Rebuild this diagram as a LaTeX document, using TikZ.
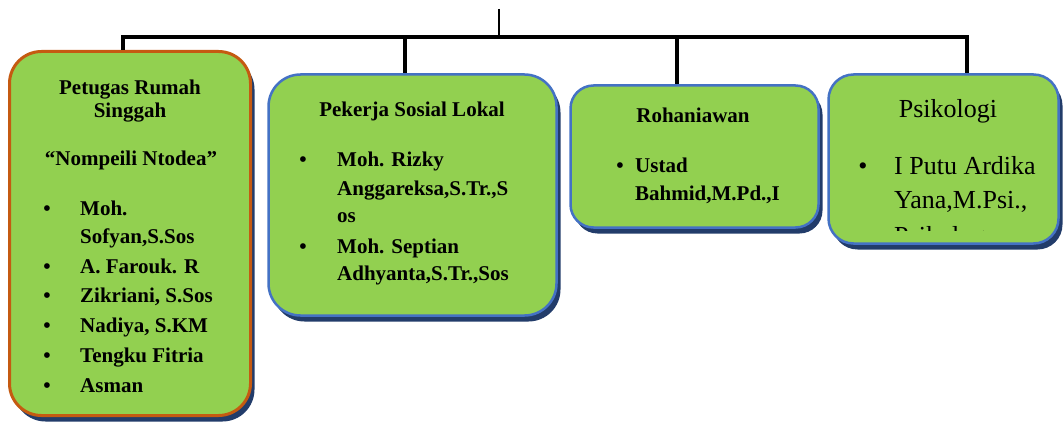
\documentclass[tikz,border=0pt]{standalone}
\usepackage{fontspec}
\setmainfont{Liberation Serif}
\usetikzlibrary{shadows}

\definecolor{boxgreen}{HTML}{92D050}
\definecolor{boxblue}{HTML}{4472C4}
\definecolor{boxorange}{HTML}{C55A11}
\definecolor{shadowblue}{HTML}{223C6A}

\tikzset{
  unit/.style={draw=boxblue, line width=2.5pt, fill=boxgreen, inner sep=0pt,
    drop shadow={shadow xshift=4pt, shadow yshift=-6pt, fill=shadowblue, opacity=1}},
  txt/.style={inner sep=0pt, anchor=base, font=\bfseries\fontsize{21}{25}\selectfont},
  txtw/.style={txt, anchor=base west},
  psi/.style={inner sep=0pt, anchor=base, font=\fontsize{26}{31}\selectfont},
  psiw/.style={psi, anchor=base west},
  link/.style={line width=3.5pt},
}

\begin{document}
\begin{tikzpicture}[x=1pt, y=-1pt]
\useasboundingbox (0,0) rectangle (1064,422);

% Boxes
\node[unit, draw=boxorange, line width=3pt, rounded corners=32pt,
      minimum width=241pt, minimum height=364pt] (petugas) at (130,233.5) {};
\node[unit, rounded corners=32pt, minimum width=288pt, minimum height=241pt] (pekerja) at (412.5,195) {};
\node[unit, rounded corners=23pt, minimum width=248pt, minimum height=142pt] (rohani) at (694.5,156.5) {};
\node[unit, rounded corners=25pt, minimum width=230pt, minimum height=169pt] (psikologi) at (943.5,159) {};

% Connectors
\coordinate (root) at (499,9);
\coordinate (hub) at (499,37);
\draw[line width=1.5pt] (root) -- (hub);
\draw[link] ([xshift=-7pt]petugas.north) |- (hub) -| ([xshift=23.5pt]psikologi.north);
\draw[link] (hub) -| ([xshift=-7.5pt]pekerja.north);
\draw[link] (hub) -| ([xshift=-17.5pt]rohani.north);

% Petugas Rumah Singgah
\node[txt] (p-h1) at (130,95) {Petugas Rumah};
\node[txt] (p-h2) at (130,118) {Singgah};
\node[txt] (p-h3) at (131,165) {“Nompeili Ntodea”};
\foreach \y/\t [count=\i] in {215/Moh., 243/{Sofyan,S.Sos}, 273/A. Farouk. R,
    302/{Zikriani, S.Sos}, 332/{Nadiya, S.KM}, 362/Tengku Fitria, 392/Asman}
  \node[txtw] (p-\i) at (80,\y) {\t};
\foreach \y [count=\i] in {215,273,302,332,362,392}
  \node[txt] (p-b\i) at (47,\y) {\textbullet};

% Pekerja Sosial Lokal
\node[txt] (s-h) at (412,117) {Pekerja Sosial Lokal};
\foreach \y/\t [count=\i] in {167/Moh. Rizky, 195/{Anggareksa,S.Tr.,S}, 222/os,
    253/Moh. Septian, 280/{Adhyanta,S.Tr.,Sos}}
  \node[txtw] (s-\i) at (337,\y) {\t};
\foreach \y [count=\i] in {167,253}
  \node[txt] (s-b\i) at (303,\y) {\textbullet};

% Rohaniawan
\node[txt] (r-h) at (693,123) {Rohaniawan};
\node[txt] (r-b1) at (620,172) {\textbullet};
\node[txtw] (r-1) at (635,172) {Ustad};
\node[txtw] (r-2) at (635,200) {Bahmid,M.Pd.,I};

% Psikologi
\node[psi] (k-h) at (948,118) {Psikologi};
\node[psi] (k-b1) at (863,175) {\textbullet};
\node[psiw] (k-1) at (894,175) {I Putu Ardika};
\node[psiw] (k-2) at (894,208) {Yana,M.Psi.,};
\begin{scope}
  \clip (880,200) rectangle (1050,230);
  \node[psiw] (k-3) at (894,244) {Psikolog};
\end{scope}

\end{tikzpicture}
\end{document}
